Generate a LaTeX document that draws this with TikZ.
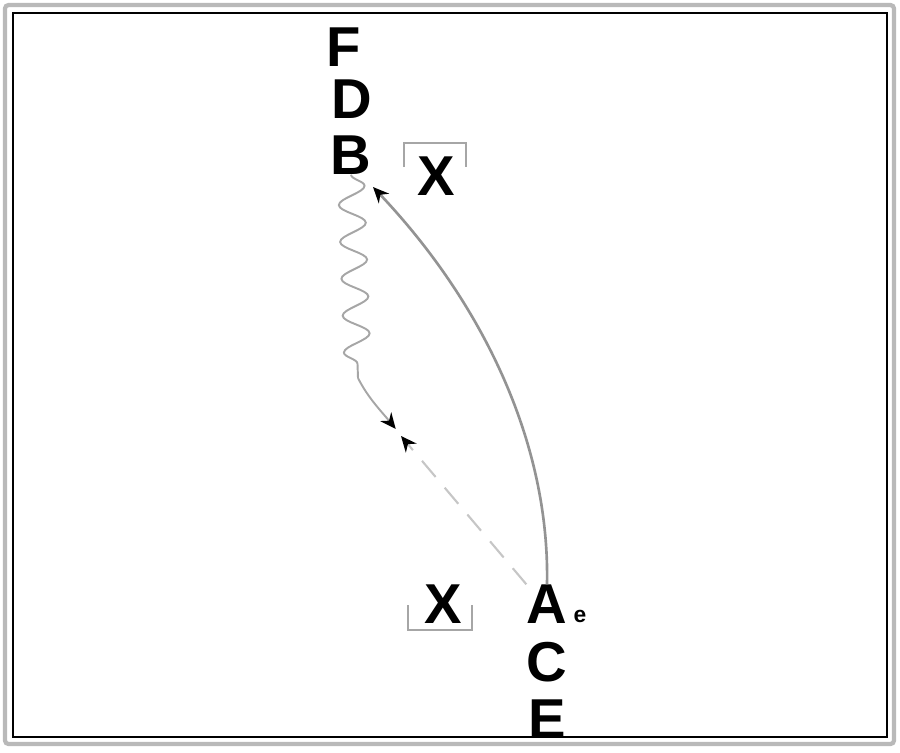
\documentclass[tikz,border=0pt]{standalone}
\usepackage{fontspec}
\setmainfont{Liberation Sans}
\usetikzlibrary{arrows.meta,decorations.pathmorphing}

\begin{document}
\begin{tikzpicture}[x=0.02cm,y=-0.02cm,
    lbl/.style={font=\fontsize{32}{34}\selectfont\bfseries, inner sep=0pt},
    small/.style={font=\fontsize{13}{14}\selectfont\bfseries, inner sep=0pt},
    tip/.style={-{Stealth[length=9pt,width=8pt,black]}},
    bline/.style={gray!85, line width=1.5pt},
    dline/.style={gray!45, line width=1.2pt, dash pattern=on 12pt off 8pt},
    wline/.style={gray!70, line width=1.1pt},
    brk/.style={gray!70, line width=1.6pt}]

    % --- Frame ---
    \useasboundingbox (0,0) rectangle (900,752);
    \draw[gray!55, line width=2.4pt, rounded corners=2pt] (5,5) rectangle (894,744);
    \draw[black, line width=0.8pt] (13,13) rectangle (887,737);

    % --- Labels on the left column ---
    \node[lbl] (F) at (344,47) {F};
    \node[lbl] (D) at (352,99) {D};
    \node[lbl] (B) at (351,155) {B};

    % --- Labels on the right column ---
    \node[lbl] (A) at (547,604) {A};
    \node[lbl] (C) at (547,662) {C};
    \node[lbl] (E) at (547,719) {E};
    \node[small] (e) at (580,616) {e};

    % --- Barred X labels ---
    \node[lbl] (Xt) at (436,176) {X};
    \node[lbl] (Xb) at (443,604) {X};
    \draw[brk] (404,167) -- (404,143) -- (466,143) -- (466,167);
    \draw[brk] (408,605) -- (408,630) -- (472,630) -- (472,605);

    % --- Points ---
    \coordinate (tipB) at (373,187);
    \coordinate (v) at (401,436);
    \coordinate (w) at (358,378);

    % --- Solid curve A to B ---
    \draw[bline, tip]
        (A.north) .. controls (550,440) and (480,300) .. (tipB);

    % --- Dashed line A to vertex ---
    \draw[dline, tip] (A.north west) -- (v);

    % --- Wavy line B to vertex ---
    \draw[wline, decorate, decoration={snake, amplitude=7.5pt, segment length=21pt}]
        (B.south) -- (w);
    \draw[wline, tip]
        (w) .. controls (368,398) and (382,412) .. ([xshift=-3pt,yshift=4pt]v);

\end{tikzpicture}
\end{document}
